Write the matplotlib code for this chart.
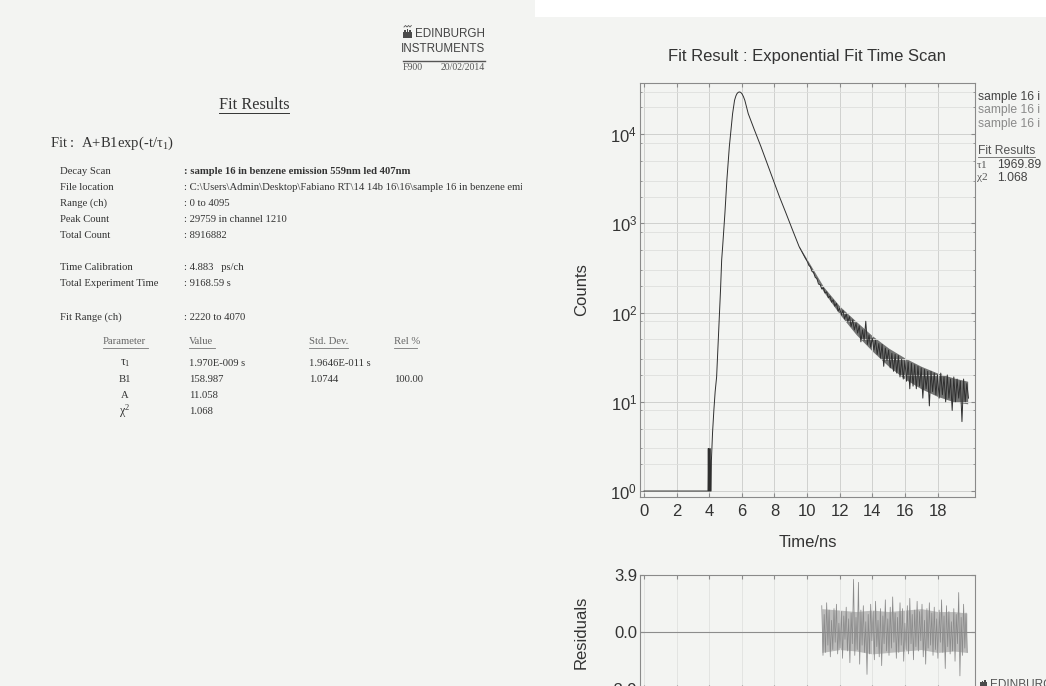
import numpy as np
import matplotlib
matplotlib.use("Agg")
import matplotlib.pyplot as plt
from matplotlib.ticker import FixedLocator, FuncFormatter, NullFormatter, LogLocator
from matplotlib.patches import Rectangle, Polygon

plt.rcParams["font.family"] = ["Liberation Sans", "DejaVu Sans"]
plt.rcParams["mathtext.fontset"] = "custom"
plt.rcParams["mathtext.rm"] = "Liberation Serif"
plt.rcParams["mathtext.sf"] = "Liberation Sans"
plt.rcParams["mathtext.it"] = "Liberation Serif:italic"
plt.rcParams["mathtext.bf"] = "Liberation Serif:bold"

W, H, DPI = 1046, 686, 100

# ---------------- report (fit summary) ----------------
report_labels = ["Decay Scan", "File location", "Range (ch)", "Peak Count", "Total Count",
                 "Time Calibration", "Total Experiment Time", "Fit Range (ch)"]
report_values = [": sample 16 in benzene emission 559nm led 407nm",
                 r": C:\Users\Admin\Desktop\Fabiano RT\14 14b 16\16\sample 16 in benzene emi",
                 ": 0 to 4095", ": 29759 in channel 1210", ": 8916882",
                 ": 4.883   ps/ch", ": 9168.59 s", ": 2220 to 4070"]
report_rows_y = [172, 187, 203, 219, 235, 267, 283, 317]

param_headers = ["Parameter", "Value", "Std. Dev.", "Rel %"]
param_names = [r"$\mathrm{\tau_1}$", "B1", "A", r"$\mathrm{\chi^2}$"]
param_values = ["1.970E-009 s", "158.987", "11.058", "1.068"]
param_stddev = ["1.9646E-011 s", "1.0744", "", ""]
param_rel = ["", "100.00", "", ""]

# ---------------- decay curve ----------------
# rising edge, peak and early decay (ns, counts)
rise_t = [0.0, 3.92, 3.94, 3.96, 4.02, 4.04, 4.06, 4.11, 4.13,
          4.20, 4.28, 4.36, 4.45, 4.53, 4.61, 4.69, 4.76, 4.82, 4.96, 5.08, 5.23, 5.43,
          5.55, 5.63, 5.70, 5.77, 5.84, 5.92, 6.00, 6.09, 6.18, 6.39, 6.75, 7.17, 7.55,
          7.92, 8.30, 8.70, 9.10, 9.51, 9.90]
rise_counts = [1, 1, 3, 1, 1, 3, 1, 1, 2.2,
               4.5, 8, 13, 19, 40, 83, 180, 390, 550, 1310, 3080, 7250, 17000,
               24000, 26800, 28500, 29400, 29759, 29500, 28500, 26500, 24000, 17000, 11400, 7250, 4700,
               3080, 2000, 1310, 850, 550, 405]

# noisy tail, one value every 0.1 ns starting at 10.0 ns
tail_start, tail_step = 10.0, 0.1
tail_counts = [380, 340, 326, 290, 281, 248, 241, 209, 206, 184,
               190, 166, 171, 147, 153, 131, 139, 118, 127, 104,
               112, 94, 106, 85, 97, 79, 90, 70, 83, 64,
               76, 59, 71, 47, 64, 49, 80, 44, 56, 41,
               52, 38, 49, 34, 45, 31, 44, 25, 40, 29,
               38, 24, 35, 22, 34, 21, 33, 19, 30, 18,
               29, 17, 28, 14, 27, 15, 26, 14, 25, 15,
               24, 11, 23, 14, 22, 9, 22, 13, 21, 12,
               20, 11, 21, 12, 19, 10, 20, 11, 18, 8,
               19, 10, 18, 11, 17, 6, 18, 10, 16, 11]

# spread of the noisy tail (ns, lower and upper edge of the dense band)
band_t = [9.5, 10.0, 11.0, 12.0, 13.0, 14.0, 15.0, 16.0, 17.0, 18.0, 19.0, 19.85]
band_lo = [540, 365, 172, 96, 57, 37, 25, 18, 14, 11.5, 10, 9.5]
band_hi = [560, 395, 196, 118, 80, 55, 40, 31, 25, 21, 18.5, 17]

# weighted residuals, one value every 0.075 ns starting at 10.9 ns
resid_start, resid_step = 10.9, 0.075
residuals = [1.8, -1.6, 1.2, -1.4, 2.0, -0.9, 1.5, -1.7, 0.8, -1.2, 1.6, -0.7, 1.9, -1.5, 0.6, -1.1, 1.4, -1.8, 1.1, -0.5,
             1.7, -1.3, 0.9, -2.1, 1.3, -0.8, 3.6, -1.6, 1.0, -1.2, 3.4, -2.2, 1.5, -0.9, 1.8, -1.4, 0.7, -2.9, 1.2, -1.5,
             1.9, -0.6, 1.4, -1.9, 2.1, -1.0, 0.8, -1.7, 1.6, -2.3, 1.1, -0.8, 2.2, -1.3, 0.9, -1.6, 1.7, -1.1, 2.4, -0.7,
             1.3, -1.8, 1.0, -1.4, 2.0, -0.9, 1.6, -2.0, 0.6, -1.2, 1.8, -1.5, 2.3, -0.8, 1.2, -1.9, 1.5, -1.0, 2.1, -1.3,
             1.4, -0.6, 1.9, -1.7, 0.8, -2.2, 1.6, -1.1, 2.0, -0.9, 1.3, -1.6, 1.7, -1.2, 0.9, -1.8, 1.5, -0.7, 2.2, -1.4,
             1.1, -2.5, 1.8, -1.0, 1.4, -1.5, 0.7, -1.3, 1.6, -2.0, 1.2, -0.8, 2.7, -3.0, 1.0, -1.6, 1.9, -1.1, 1.3, -1.4]

# spread of the residual band
rband_t = [10.9, 12.0, 13.0, 14.0, 15.0, 16.0, 17.0, 18.0, 19.0, 19.8]
rband_lo = [-1.4, -1.2, -1.3, -1.5, -1.4, -1.3, -1.2, -1.4, -1.3, -1.4]
rband_hi = [1.6, 1.5, 1.4, 1.5, 1.4, 1.5, 1.6, 1.4, 1.4, 1.3]

x_ticks = [0, 2, 4, 6, 8, 10, 12, 14, 16, 18]
y_decades = [1, 10, 100, 1000, 10000]
resid_ticks = [-3.9, 0.0, 3.9]
legend_names = ["sample 16 i", "sample 16 i", "sample 16 i"]
fit_tau, fit_chi2 = "1969.89", "1.068"

BG = "#f3f4f2"
INK = "#333333"

fig = plt.figure(figsize=(W / DPI, H / DPI), dpi=DPI, facecolor=BG)

# full-figure canvas in pixel coordinates
canvas = fig.add_axes([0, 0, 1, 1])
canvas.set_xlim(0, W)
canvas.set_ylim(H, 0)
canvas.axis("off")
canvas.add_patch(Rectangle((535, 0), W - 535, 17, color="white", lw=0))

# clipped report page on the left
page = fig.add_axes([0, 0, 522 / W, 1])
page.set_xlim(0, 522)
page.set_ylim(H, 0)
page.axis("off")

serif = "Liberation Serif"


def ptxt(x, y, s, size=7.7, **kw):
    kw.setdefault("color", INK)
    kw.setdefault("va", "center")
    page.text(x, y, s, fontsize=size, family=serif, clip_on=True, **kw)


# logo
castle = [(403, 38), (403, 31.5), (404.3, 31.5), (404.3, 29.5), (405.7, 29.5), (405.7, 31.5),
          (406.6, 31.5), (406.6, 28.5), (408.2, 28.5), (408.2, 31.5), (409.1, 31.5), (409.1, 29.5),
          (410.5, 29.5), (410.5, 31.5), (411.5, 31.5), (411.5, 38)]
page.add_patch(Polygon(castle, closed=True, color="#4a4a4a", lw=0))
page.plot([404, 405.5, 407, 408.5, 410, 411.3], [27, 25.5, 27, 25.5, 27, 25.5], color="#555", lw=0.6)
page.text(485, 34, "EDINBURGH", fontsize=8.4, family="Liberation Sans", color="#444",
          ha="right", va="center")
page.text(485, 49, "INSTRUMENTS", fontsize=8.4, family="Liberation Sans", color="#444",
          ha="right", va="center")
page.plot([403, 485], [61, 61], color="#555", lw=1.0)
ptxt(403, 68, "F900", size=7, color="#555")
ptxt(485, 68, "20/02/2014", size=7, color="#555", ha="right")

# headings
ptxt(254, 105, "Fit Results", size=11.7, ha="center")
page.plot([219, 289], [113, 113], color=INK, lw=0.7)
ptxt(50, 143, r"Fit :  A+B1exp(-t/$\mathrm{\tau_1}$)", size=10.5)

for lab, val, y in zip(report_labels, report_values, report_rows_y):
    ptxt(60, y, lab)
    ptxt(184, y, val, fontweight="bold" if lab == "Decay Scan" else "normal")

# parameter table
head_x = [103, 189, 309, 394]
head_w = [45, 26, 39, 23]
for hx, hw, hd in zip(head_x, head_w, param_headers):
    ptxt(hx, 342, hd, color="#666")
    page.plot([hx, hx + hw], [348, 348], color="#777", lw=0.6)

rows_y = [363, 379, 395, 411]
for y, nm, v, sd, rl in zip(rows_y, param_names, param_values, param_stddev, param_rel):
    ptxt(125, y, nm, size=8.6 if nm.startswith("$") else 7.7, ha="center")
    ptxt(189, y, v)
    if sd:
        ptxt(309, y, sd)
    if rl:
        ptxt(394, y, rl)

# ---------------- decay plot ----------------
ax = fig.add_axes([640 / W, 1 - 497 / H, 335 / W, 414 / H])
ax.set_facecolor("none")
tail_t = tail_start + tail_step * np.arange(len(tail_counts))
t_all = np.concatenate([rise_t, tail_t])
c_all = np.concatenate([rise_counts, tail_counts])
ax.fill_between(band_t, band_lo, band_hi, color="#4a4a4a", alpha=0.75, lw=0)
ax.plot(t_all, c_all, color="#2f2f2f", lw=0.7)
ax.set_yscale("log")
ax.set_xlim(-0.25, 20.3)
ax.set_ylim(10 ** -0.067, 10 ** 4.574)
ax.xaxis.set_major_locator(FixedLocator(x_ticks))
ax.yaxis.set_major_locator(FixedLocator(y_decades))
ax.yaxis.set_major_formatter(FuncFormatter(lambda v, p: r"$\mathsf{10^{%d}}$" % round(np.log10(v))))
ax.yaxis.set_minor_locator(LogLocator(base=10, subs=(2, 3, 5, 8)))
ax.yaxis.set_minor_formatter(NullFormatter())
ax.grid(True, which="major", color="#cfd0ce", lw=0.7)
ax.grid(True, which="minor", axis="y", color="#dedfdd", lw=0.6)
ax.tick_params(which="both", direction="in", top=True, right=True, colors="#8a8a8a",
               labelcolor="#333333", labelsize=12)
ax.tick_params(which="major", length=3)
ax.tick_params(which="minor", length=1.5)
ax.tick_params(axis="y", pad=2)
ax.tick_params(axis="x", pad=5)
for s in ax.spines.values():
    s.set_color("#8a8a8a")
    s.set_linewidth(0.8)
ax.set_xlabel("Time/ns", fontsize=12, color="#333333")
ax.set_ylabel("Counts", fontsize=12, color="#333333")
ax.xaxis.set_label_coords(0.5, -0.092)
ax.yaxis.set_label_coords(-0.152, 0.5)

# ---------------- residuals ----------------
rax = fig.add_axes([640 / W, 1 - 689 / H, 335 / W, 114 / H])
rax.set_facecolor("none")
resid_t = resid_start + resid_step * np.arange(len(residuals))
rax.axhline(0, color="#8c8c8c", lw=0.8)
rax.fill_between(rband_t, rband_lo, rband_hi, color="#8f8f8f", alpha=0.55, lw=0)
rax.plot(resid_t, residuals, color="#8a8a8a", lw=0.55)
rax.set_xlim(-0.25, 20.3)
rax.set_ylim(-3.9, 3.9)
rax.xaxis.set_major_locator(FixedLocator(x_ticks))
rax.set_xticklabels([])
rax.yaxis.set_major_locator(FixedLocator(resid_ticks))
rax.set_yticklabels(["%.1f" % v for v in resid_ticks])
rax.grid(True, axis="x", color="#e0e1df", lw=0.6)
rax.tick_params(direction="in", top=True, right=True, length=3, colors="#8a8a8a",
                labelcolor="#333333", labelsize=12, pad=2)
for s in rax.spines.values():
    s.set_color("#8a8a8a")
    s.set_linewidth(0.8)
rax.set_ylabel("Residuals", fontsize=12, color="#333333")
rax.yaxis.set_label_coords(-0.152, 0.5)

# ---------------- title and side legend ----------------
canvas.text(807, 57, "Fit Result : Exponential Fit Time Scan", fontsize=12, color="#333333",
            ha="center", va="center")
for i, (nm, col) in enumerate(zip(legend_names, ["#444444", "#8a8a8a", "#8a8a8a"])):
    canvas.text(978, 97 + 13.5 * i, nm, fontsize=8.7, color=col, va="center")
canvas.text(978, 151, "Fit Results", fontsize=8.7, color="#555555", va="center")
canvas.plot([978, 1035], [157, 157], color="#666666", lw=0.6)
canvas.text(976, 165, r"$\mathrm{\tau}$1", fontsize=8.2, family=serif, color="#555555", va="center")
canvas.text(997, 165, fit_tau, fontsize=8.7, color="#444444", va="center")
canvas.text(976, 178, r"$\mathrm{\chi}$2", fontsize=8.2, family=serif, color="#555555", va="center")
canvas.text(997, 178, fit_chi2, fontsize=8.7, color="#444444", va="center")

# small logo at the bottom right
canvas.add_patch(Polygon([(980, 686), (980, 682), (981.5, 682), (981.5, 680.5), (983, 680.5),
                          (983, 682), (984, 682), (984, 680), (985.5, 680), (985.5, 682),
                          (987, 682), (987, 686)], closed=True, color="#4a4a4a", lw=0))
canvas.text(990, 679, "EDINBURGH", fontsize=8.5, color="#555555", va="top")

fig.savefig("out.png", dpi=DPI, facecolor=BG)
